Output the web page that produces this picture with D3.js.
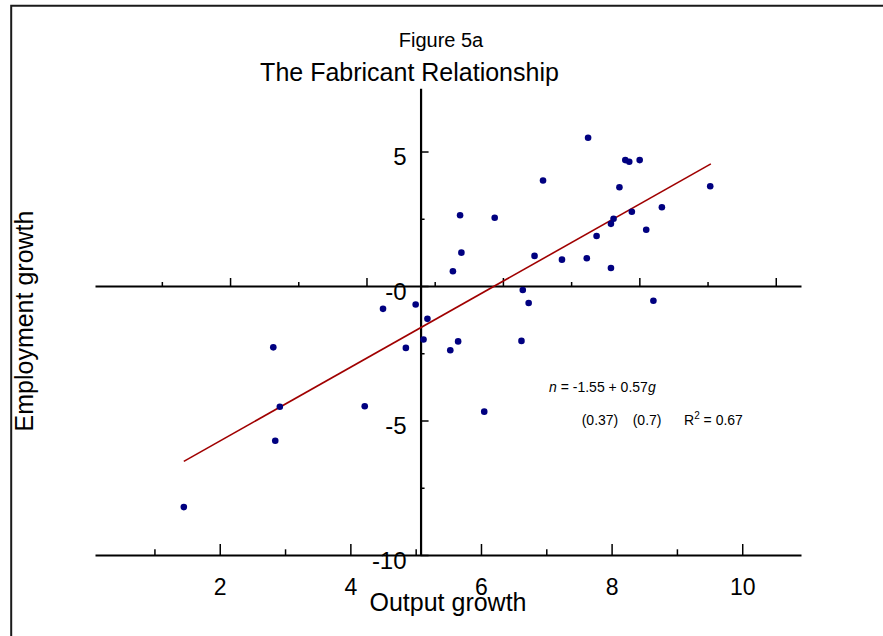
<!DOCTYPE html>
<html>
<head>
<meta charset="utf-8">
<script src="https://cdn.jsdelivr.net/npm/d3@7"></script>
<style>
body { margin: 0; background: #fff; }
svg { display: block; font-family: "Liberation Sans", Arial, sans-serif; }
</style>
</head>
<body>
<div id="chart"></div>
<script>
// values
var outputGrowth = [7.64, 8.21, 8.27, 8.43, 6.95, 8.12, 9.51, 5.68, 6.21, 8.03,
	7.99, 8.31, 8.77, 8.53, 7.77, 5.70, 5.57, 6.82, 7.24, 7.62,
	7.99, 6.64, 6.73, 8.64, 5.00, 5.18, 4.50, 5.12, 4.85, 5.53,
	5.65, 2.82, 2.92, 4.22, 2.85, 1.45, 6.62, 6.05];
var employmentGrowth = [5.51, 4.68, 4.62, 4.68, 3.92, 3.67, 3.71, 2.63, 2.54, 2.50,
	2.31, 2.76, 2.93, 2.09, 1.86, 1.24, 0.55, 1.12, 0.98, 1.03,
	0.67, -0.15, -0.63, -0.55, -0.69, -1.22, -0.85, -1.99, -2.30, -2.39,
	-2.06, -2.28, -4.49, -4.47, -5.75, -8.22, -2.04, -4.67];
// fitted line end points
var fitX = [1.45, 9.52];
var fitY = [-6.52, 4.54];

var xMajor = [2, 4, 6, 8, 10];
var xMinor = [1, 3, 5, 7, 9];
var yMajor = [5, 0, -5, -10];
var yLabels = ["5", "-0", "-5", "-10"];
var yMinor = [2.5, -2.5, -7.5];

var w = 883, h = 636;

var svg = d3.select("#chart").append("svg")
	.attr("width", w)
	.attr("height", h);

// frame
svg.append("path")
	.attr("d", "M11.2,640V5.7H890")
	.attr("fill", "none")
	.attr("stroke", "#1a1a1a")
	.attr("stroke-width", 2);

var x = d3.scaleLinear().domain([0.09, 10.9]).range([95, 801]);
var xTop = d3.scaleLinear().domain([0.02, 10.37]).range([95, 801]);
var y = d3.scaleLinear().domain([-10, 7.35]).range([555, 88.3]);
var xCross = 5.075;

function styleAxis(g, pathWidth){
	g.select(".domain").attr("stroke", "#000").attr("stroke-width", pathWidth);
	g.selectAll(".tick line").attr("stroke", "#000").attr("stroke-width", 1.5);
}

// bottom labelled axis
var gb = svg.append("g").attr("transform", "translate(0," + y(-10) + ")");
gb.call(d3.axisBottom(x).tickValues(xMajor).tickSize(-11).tickSizeOuter(0).tickPadding(24).tickFormat(d3.format("d")));
styleAxis(gb, 2.2);
gb.selectAll(".tick text").attr("font-size", 23).attr("fill", "#000").attr("font-family", null);
var gb2 = svg.append("g").attr("transform", "translate(0," + y(-10) + ")");
gb2.call(d3.axisBottom(x).tickValues(xMinor).tickSize(-5.7).tickFormat(""));
gb2.select(".domain").remove();
styleAxis(gb2, 1);

// axis through y = 0
var gz = svg.append("g").attr("transform", "translate(0," + y(0) + ")");
gz.call(d3.axisBottom(xTop).tickValues(xMajor).tickSize(-8).tickSizeOuter(0).tickFormat(""));
styleAxis(gz, 2.2);
var gz2 = svg.append("g").attr("transform", "translate(0," + y(0) + ")");
gz2.call(d3.axisBottom(xTop).tickValues(xMinor).tickSize(-4).tickFormat(""));
gz2.select(".domain").remove();
styleAxis(gz2, 1);

// vertical axis
var gy = svg.append("g").attr("transform", "translate(" + x(xCross) + ",0)");
gy.call(d3.axisLeft(y).tickValues(yMajor).tickSize(-8).tickSizeOuter(0).tickPadding(14)
	.tickFormat(function(d, i){ return yLabels[i]; }));
styleAxis(gy, 2.2);
gy.selectAll(".tick text").attr("font-size", 24).attr("fill", "#000").attr("font-family", null).attr("dy", "0.56em");
var gy2 = svg.append("g").attr("transform", "translate(" + x(xCross) + ",0)");
gy2.call(d3.axisLeft(y).tickValues(yMinor).tickSize(-4).tickFormat(""));
gy2.select(".domain").remove();
styleAxis(gy2, 1);

// fit line
svg.append("line")
	.attr("x1", x(fitX[0])).attr("y1", y(fitY[0]))
	.attr("x2", x(fitX[1])).attr("y2", y(fitY[1]))
	.attr("stroke", "#a00000")
	.attr("stroke-width", 1.6);

// points
svg.selectAll(".pt")
	.data(outputGrowth)
	.enter().append("circle")
	.attr("class", "pt")
	.attr("cx", function(d){ return x(d); })
	.attr("cy", function(d, i){ return y(employmentGrowth[i]); })
	.attr("r", 3.3)
	.style("fill", "#000080");

// titles
svg.append("text").attr("x", 441).attr("y", 47).attr("text-anchor", "middle")
	.attr("font-size", 20).text("Figure 5a");
svg.append("text").attr("x", 409.5).attr("y", 81).attr("text-anchor", "middle")
	.attr("font-size", 25).text("The Fabricant Relationship");
svg.append("text").attr("x", 448).attr("y", 611).attr("text-anchor", "middle")
	.attr("font-size", 25).text("Output growth");
svg.append("text").attr("transform", "translate(33,321) rotate(-90)").attr("text-anchor", "middle")
	.attr("font-size", 25).text("Employment growth");

// regression note
var eq = svg.append("text").attr("x", 549).attr("y", 392).attr("font-size", 14);
eq.append("tspan").attr("font-style", "italic").text("n");
eq.append("tspan").text(" = -1.55 + 0.57");
eq.append("tspan").attr("font-style", "italic").text("g");

svg.append("text").attr("x", 581.7).attr("y", 425).attr("font-size", 14).text("(0.37)");
svg.append("text").attr("x", 632.7).attr("y", 425).attr("font-size", 14).text("(0.7)");
var r2 = svg.append("text").attr("x", 684).attr("y", 425).attr("font-size", 14);
r2.append("tspan").text("R");
r2.append("tspan").attr("font-size", 10).attr("dy", -6).text("2");
r2.append("tspan").attr("dy", 6).text(" = 0.67");
</script>
</body>
</html>
